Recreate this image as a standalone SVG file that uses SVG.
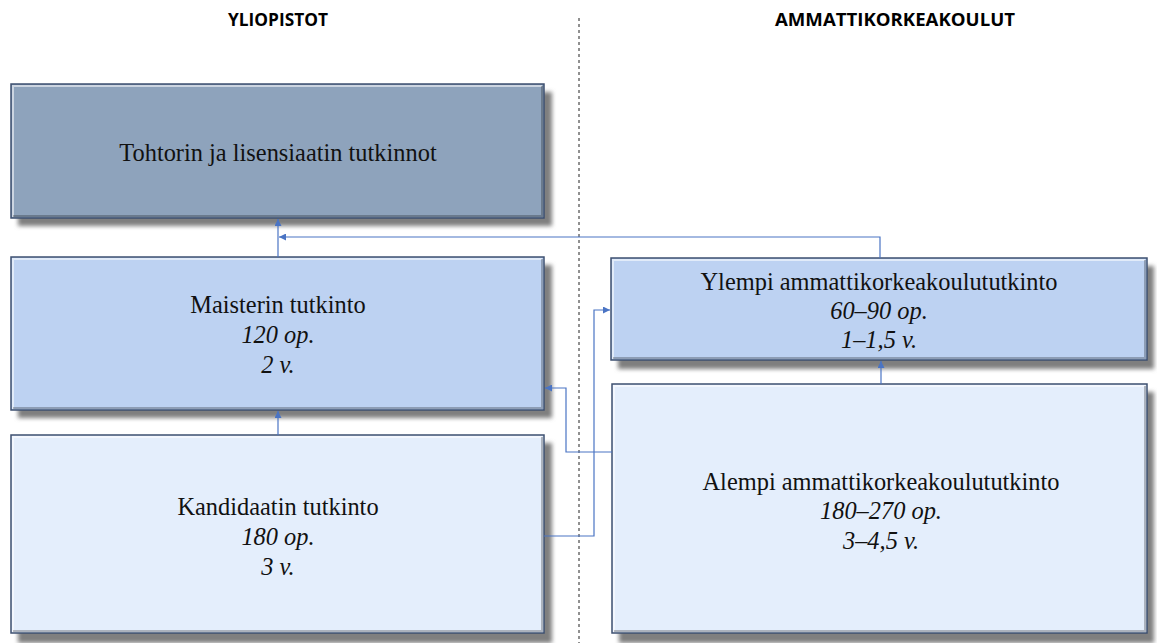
<svg xmlns="http://www.w3.org/2000/svg" width="1157" height="643" viewBox="0 0 1157 643">
<style>
.hdr{font-family:"Open Sans","Liberation Sans",sans-serif;font-weight:bold;font-size:17px;fill:#000;text-anchor:middle}
.t{font-family:"Liberation Serif","Times New Roman",serif;font-size:24.4px;fill:#111;text-anchor:middle}
.i{font-style:italic}
.box{stroke:#3E5070;stroke-width:1.5}
.shadow{fill:#7f7f7f;filter:url(#blur)}
.hl{fill:none;stroke:#ffffff;stroke-opacity:0.55;stroke-width:2}
.dk{fill:none;stroke:#000;stroke-opacity:0.25;stroke-width:2}
.c{fill:none;stroke:#4A74C4;stroke-width:1.2}
.d1{fill:#8EA3BC}
.d2{fill:#BDD2F2}
.d3{fill:#E4EEFC}
</style>
<defs>
<filter id="blur" x="-10%" y="-10%" width="120%" height="130%"><feGaussianBlur stdDeviation="2"/></filter>
<marker id="ah" viewBox="0 0 10 10" refX="10" refY="5" markerWidth="7" markerHeight="7" markerUnits="userSpaceOnUse" orient="auto"><path d="M0,0 L10,5 L0,10 z" fill="#4A74C4"/></marker>
</defs>
<rect width="1157" height="643" fill="#fff"/>
<text class="hdr" x="278" y="26" textLength="100" lengthAdjust="spacingAndGlyphs">YLIOPISTOT</text>
<text class="hdr" x="895" y="26" textLength="240" lengthAdjust="spacingAndGlyphs">AMMATTIKORKEAKOULUT</text>
<line x1="579" y1="18" x2="579" y2="643" stroke="#222" stroke-width="1" stroke-dasharray="3,3"/>

<g id="n-tohtori">
<rect class="shadow" x="18" y="92" width="534" height="134"/>
<rect class="box d1" x="11" y="84" width="533" height="134"/>
<path class="hl" d="M13,217 V86 H542"/>
<path class="dk" d="M542,86 V216 H13"/>
<text class="t" x="278" y="161">Tohtorin ja lisensiaatin tutkinnot</text>
</g>

<g id="n-maisteri">
<rect class="shadow" x="18" y="265" width="534" height="153"/>
<rect class="box d2" x="11" y="257" width="533" height="153"/>
<path class="hl" d="M13,409 V259 H542"/>
<path class="dk" d="M542,259 V408 H13"/>
<text class="t" x="278" y="313">Maisterin tutkinto</text>
<text class="t i" x="278" y="343">120 op.</text>
<text class="t i" x="278" y="373">2 v.</text>
</g>

<g id="n-kandi">
<rect class="shadow" x="18" y="443" width="534" height="200"/>
<rect class="box d3" x="11" y="435" width="533" height="198"/>
<path class="hl" d="M13,632 V437 H542"/>
<path class="dk" d="M542,437 V631 H13"/>
<text class="t" x="278" y="515">Kandidaatin tutkinto</text>
<text class="t i" x="278" y="545">180 op.</text>
<text class="t i" x="278" y="575">3 v.</text>
</g>

<g id="n-ylempi">
<rect class="shadow" x="618" y="266" width="536" height="103"/>
<rect class="box d2" x="611" y="258" width="536" height="102"/>
<path class="hl" d="M613,359 V260 H1145"/>
<path class="dk" d="M1145,260 V358 H613"/>
<text class="t" x="879" y="290">Ylempi ammattikorkeakoulututkinto</text>
<text class="t i" x="879" y="319">60–90 op.</text>
<text class="t i" x="879" y="348">1–1,5 v.</text>
</g>

<g id="n-alempi">
<rect class="shadow" x="619" y="392" width="535" height="251"/>
<rect class="box d3" x="612" y="384" width="535" height="249"/>
<path class="hl" d="M614,632 V386 H1145"/>
<path class="dk" d="M1145,386 V631 H614"/>
<text class="t" x="881" y="490">Alempi ammattikorkeakoulututkinto</text>
<text class="t i" x="881" y="519">180–270 op.</text>
<text class="t i" x="881" y="549">3–4,5 v.</text>
</g>

<g id="connectors">
<path class="c" d="M278,257 V219" marker-end="url(#ah)"/>
<path class="c" d="M880,258 V237 H279" marker-end="url(#ah)"/>
<path class="c" d="M278,435 V411" marker-end="url(#ah)"/>
<path class="c" d="M881,384 V361" marker-end="url(#ah)"/>
<path class="c" d="M612,452 H566 V388 H545" marker-end="url(#ah)"/>
<path class="c" d="M544,536 H594 V310 H610" marker-end="url(#ah)"/>
</g>
</svg>
